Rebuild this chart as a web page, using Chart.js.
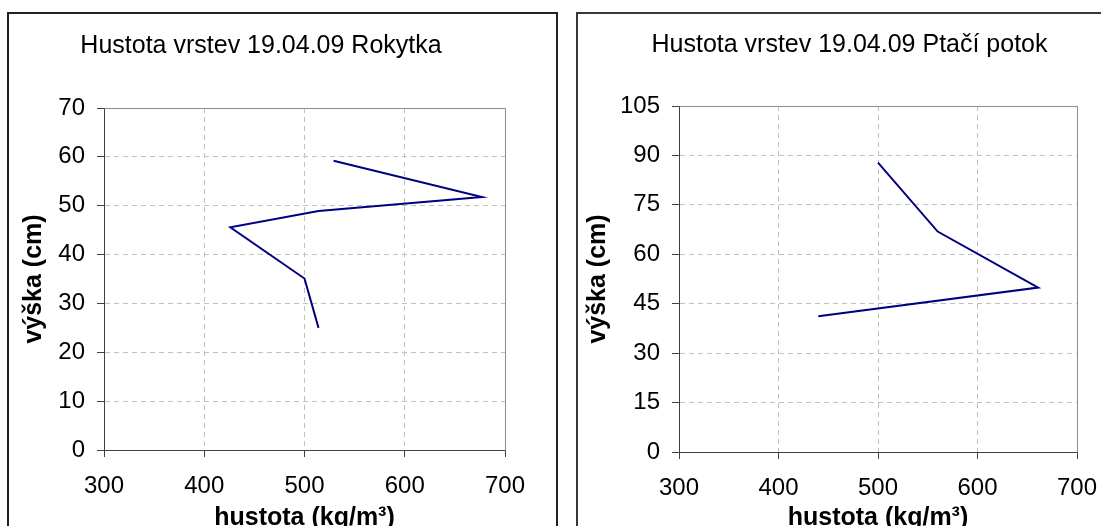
<!DOCTYPE html>
<html>
<head>
<meta charset="utf-8">
<script src="https://cdn.jsdelivr.net/npm/chart.js@4.4.1/dist/chart.umd.min.js"></script>
<style>
  html, body { margin: 0; padding: 0; width: 1101px; height: 526px; overflow: hidden; background: #fff; }
  .frame { position: absolute; box-sizing: border-box; border: 2px solid #383838; }
  #frameA { left: 7px; top: 12px; width: 551px; height: 560px; border-color: #222; }
  #frameB { left: 576px; top: 12px; width: 600px; height: 560px; }
  canvas { position: absolute; top: 0; }
  #chartA { left: 0; }
  #chartB { left: 560px; }
</style>
</head>
<body>
<div class="frame" id="frameA"></div>
<div class="frame" id="frameB"></div>
<canvas id="chartA" width="560" height="540"></canvas>
<canvas id="chartB" width="541" height="540"></canvas>
<script>
// Snow layer density profiles, 19.04.09
const rokytkaDensity = [529, 677, 514, 426, 500, 514];   // kg/m3
const rokytkaHeight  = [59.2, 51.8, 48.9, 45.6, 35.1, 25.0]; // cm

const ptaciDensity = [500, 560, 661, 440];   // kg/m3
const ptaciHeight  = [87.8, 66.9, 49.9, 41.2]; // cm

const densityTicks = { min: 300, max: 700, step: 100 };
const rokytkaTicks = { min: 0, max: 70, step: 10 };
const ptaciTicks   = { min: 0, max: 105, step: 15 };

const titleRokytka = 'Hustota vrstev 19.04.09 Rokytka';
const titlePtaci   = 'Hustota vrstev 19.04.09 Ptačí potok';
const xLabel = 'hustota (kg/m³)';
const yLabel = 'výška (cm)';

const FONT = '"Liberation Sans", Arial, sans-serif';

// Grey top/right edges of the plot area
const plotFrame = {
  id: 'plotFrame',
  beforeDatasetsDraw(chart, args, opts) {
    const { ctx, chartArea: a } = chart;
    const al = p => Math.round(p - 0.5) + 0.5;
    ctx.save();
    ctx.strokeStyle = opts.color || '#808080';
    ctx.lineWidth = 1;
    ctx.setLineDash([]);
    ctx.beginPath();
    ctx.moveTo(al(a.left), al(a.top));
    ctx.lineTo(al(a.right), al(a.top));
    ctx.lineTo(al(a.right), al(a.bottom));
    ctx.stroke();
    ctx.restore();
  }
};

function profileChart(canvasId, title, xs, ys, yTicks, g) {
  const points = xs.map((x, i) => ({ x: x, y: ys[i] }));
  const grid = { color: '#c0c0c0', lineWidth: 1, tickLength: 7, tickColor: '#404040', tickBorderDash: [] };
  const border = { color: '#404040', width: 1, dash: [5, 4] };
  return new Chart(document.getElementById(canvasId), {
    type: 'scatter',
    data: {
      datasets: [{
        data: points,
        showLine: true,
        borderColor: '#000080',
        borderWidth: 2,
        pointRadius: 0,
        pointHoverRadius: 0,
        tension: 0,
        fill: false
      }]
    },
    options: {
      responsive: false,
      animation: false,
      devicePixelRatio: 1,
      layout: { padding: { left: g.padL, right: g.padR, top: 0, bottom: 0 } },
      plugins: {
        legend: { display: false },
        tooltip: { enabled: false },
        plotFrame: { color: '#8c8c8c' },
        title: {
          display: true,
          text: title,
          color: '#000',
          font: { family: FONT, size: 25, weight: 'normal', lineHeight: 1 },
          padding: { top: g.titleTop, bottom: g.titleBottom }
        }
      },
      scales: {
        x: {
          type: 'linear',
          position: 'bottom',
          min: densityTicks.min,
          max: densityTicks.max,
          ticks: {
            stepSize: densityTicks.step,
            color: '#000',
            font: { family: FONT, size: 24, lineHeight: 1.2 },
            padding: 15,
            maxRotation: 0,
            autoSkip: false
          },
          grid: grid,
          border: border,
          title: {
            display: true,
            text: xLabel,
            color: '#000',
            font: { family: FONT, size: 25, weight: 'bold', lineHeight: 1 },
            padding: { top: 0, bottom: 9 }
          },
          afterFit(s) { s.height = g.xAxisH; s.paddingLeft = 0; s.paddingRight = 0; }
        },
        y: {
          type: 'linear',
          position: 'left',
          min: yTicks.min,
          max: yTicks.max,
          ticks: {
            stepSize: yTicks.step,
            color: '#000',
            font: { family: FONT, size: 24, lineHeight: 1.2 },
            padding: 12,
            autoSkip: false
          },
          grid: grid,
          border: border,
          title: {
            display: true,
            text: yLabel,
            color: '#000',
            font: { family: FONT, size: 25, weight: 'bold', lineHeight: 1 },
            padding: { top: g.yTitlePad, bottom: 0 }
          },
          afterFit(s) { s.width = g.yAxisW; s.paddingTop = 0; s.paddingBottom = 0; }
        }
      }
    },
    plugins: [plotFrame]
  });
}

profileChart('chartA', titleRokytka, rokytkaDensity, rokytkaHeight, rokytkaTicks,
  { padL: 17, padR: 55, yAxisW: 87, xAxisH: 90, titleTop: 33.5, titleBottom: 49.5, yTitlePad: 5 });

profileChart('chartB', titlePtaci, ptaciDensity, ptaciHeight, ptaciTicks,
  { padL: 62, padR: 24, yAxisW: 57, xAxisH: 88, titleTop: 32.5, titleBottom: 48.5, yTitlePad: -36 });
</script>
</body>
</html>
